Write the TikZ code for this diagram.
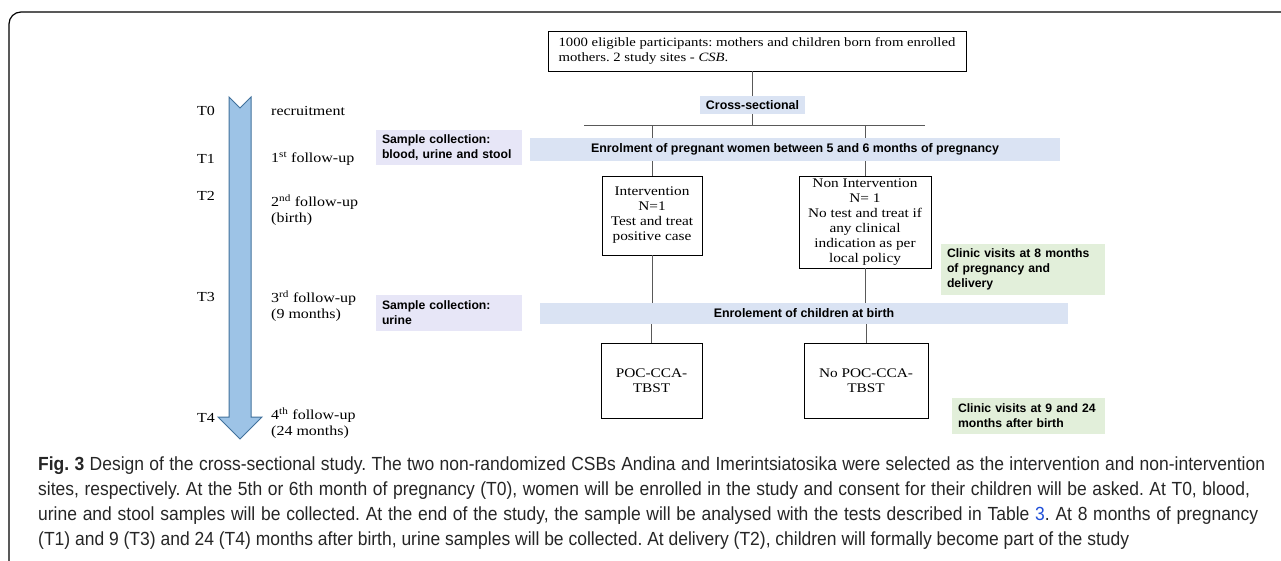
\documentclass[tikz,border=0pt]{standalone}
\usepackage{fontspec}
\setmainfont{Liberation Serif}[FakeStretch=1.16]
\newfontfamily\boldsans{Liberation Sans}
\newfontfamily\capfont{Liberation Sans}[FakeStretch=0.92]
\usetikzlibrary{positioning}
\definecolor{barblue}{HTML}{DAE3F3}
\definecolor{lavender}{HTML}{E7E6F7}
\definecolor{palegreen}{HTML}{E2EFDA}
\definecolor{arrowfill}{HTML}{9DC3E6}
\definecolor{arrowedge}{HTML}{41719C}
\definecolor{linkblue}{HTML}{1F4FD8}
\tikzset{
  plainbox/.style={draw=black, line width=0.9pt, inner sep=0pt, align=center, font=\fontsize{13.2}{15}\selectfont},
  barbox/.style={fill=barblue, inner sep=0pt, font=\boldsans\bfseries\fontsize{12.4}{14}\selectfont},
  notebox/.style={inner sep=0pt, inner xsep=6pt, align=left, text width=#1, font=\boldsans\bfseries\fontsize{12.2}{15}\selectfont},
  tlabel/.style={anchor=west, inner sep=0pt, align=left, font=\fontsize{13.8}{15.5}\selectfont},
  link/.style={draw=black!65, line width=1pt},
  capline/.style={anchor=west, inner sep=0pt, text=black!85, font=\capfont\fontsize{19}{25}\selectfont}
}
\begin{document}
\frenchspacing
\begin{tikzpicture}[x=1pt,y=-1pt]
  \useasboundingbox (0,0) rectangle (1281,561);
  % Frame
  \draw[line width=1.2pt, rounded corners=12pt] (9,570) -- (9,12) -- (1290,12);
  % Time arrow
  \draw[fill=arrowfill, draw=arrowedge, line width=1pt, line join=miter]
    (229,97) -- (240,108) -- (251,97) -- (251,417) -- (262,417) -- (240,439)
    -- (218,417) -- (229,417) -- cycle;
  % Time points
  \node[tlabel] (t0) at (197,111) {T0};
  \node[tlabel] (t1) at (197,159) {T1};
  \node[tlabel] (t2) at (197,196) {T2};
  \node[tlabel] (t3) at (197,297) {T3};
  \node[tlabel] (t4) at (197,418) {T4};
  \node[tlabel] (f0) at (271,111) {recruitment};
  \node[tlabel] (f1) at (271,159) {1\textsuperscript{st} follow-up};
  \node[tlabel] (f2) at (271,210) {2\textsuperscript{nd} follow-up\\(birth)};
  \node[tlabel] (f3) at (271,306) {3\textsuperscript{rd} follow-up\\(9 months)};
  \node[tlabel] (f4) at (271,423) {4\textsuperscript{th} follow-up\\(24 months)};
  % Sample collection
  \node[notebox=134pt, fill=lavender, minimum height=35pt] (samp1) at (449,147.5) {Sample collection:\\blood, urine and stool};
  \node[notebox=134pt, fill=lavender, minimum height=36pt] (samp2) at (449,313) {Sample collection:\\urine};
  % Flow
  \node[plainbox, align=left, minimum width=418pt, minimum height=40pt, font=\fontsize{12.7}{15}\selectfont] (pool) at (757,51)
    {1000 eligible participants: mothers and children born from enrolled\\mothers. 2 study sites - \textit{CSB}.};
  \node[barbox, minimum width=105pt, minimum height=18pt] (cross) at (752.5,105) {Cross-sectional};
  \coordinate (splitL) at (584,126);
  \coordinate (splitR) at (925,126);
  \node[barbox, minimum width=530pt, minimum height=23pt] (women) at (795,149.5) {Enrolment of pregnant women between 5 and 6 months of pregnancy};
  \node[plainbox, minimum width=100pt, minimum height=79pt] (int) at (652,215.5) {Intervention\\N=1\\Test and treat\\positive case};
  \node[plainbox, minimum width=132pt, minimum height=92pt] (nonint) at (865,222) {Non Intervention\\N= 1\\No test and treat if\\any clinical\\indication as per\\local policy};
  \node[barbox, minimum width=528pt, minimum height=21pt] (children) at (804,313.5) {Enrolement of children at birth};
  \node[plainbox, minimum width=101pt, minimum height=75pt] (poc) at (651.5,380.5) {POC-CCA-\\TBST};
  \node[plainbox, minimum width=124pt, minimum height=75pt] (nopoc) at (866,380.5) {No POC-CCA-\\TBST};
  % Clinic visits
  \node[notebox=152pt, fill=palegreen, minimum height=51pt] (visit1) at (1023,269.5) {Clinic visits at 8 months\\of pregnancy and\\delivery};
  \node[notebox=141pt, fill=palegreen, minimum height=36pt] (visit2) at (1028.5,416) {Clinic visits at 9 and 24\\months after birth};
  % Connectors
  \draw[link] (cross.north |- pool.south) -- (cross.north);
  \draw[link] (cross.south) -- (cross.south |- splitL);
  \draw[link] (splitL) -- (splitR);
  \draw[link] (int.north |- splitL) -- (int.north |- women.north);
  \draw[link] (nonint.north |- splitR) -- (nonint.north |- women.north);
  \draw[link] (int.north |- women.south) -- (int.north);
  \draw[link] (nonint.north |- women.south) -- (nonint.north);
  \draw[link] (int.south) -- (int.south |- children.north);
  \draw[link] (nonint.south) -- (nonint.south |- children.north);
  \draw[link] (poc.north |- children.south) -- (poc.north);
  \draw[link] (nopoc.north |- children.south) -- (nopoc.north);
  % Caption
  \node[capline] (cap1) at (38,466) {\parbox{1227pt}{\parfillskip=0pt \textbf{Fig. 3} Design of the cross-sectional study. The two non-randomized CSBs Andina and Imerintsiatosika were selected as the intervention and non-intervention}};
  \node[capline] (cap2) at (38,491) {\parbox{1212pt}{\parfillskip=0pt sites, respectively. At the 5th or 6th month of pregnancy (T0), women will be enrolled in the study and consent for their children will be asked. At T0, blood,}};
  \node[capline] (cap3) at (38,516) {\parbox{1220pt}{\parfillskip=0pt urine and stool samples will be collected. At the end of the study, the sample will be analysed with the tests described in Table \textcolor{linkblue}{3}. At 8 months of pregnancy}};
  \node[capline] (cap4) at (38,541) {(T1) and 9 (T3) and 24 (T4) months after birth, urine samples will be collected. At delivery (T2), children will formally become part of the study};
\end{tikzpicture}
\end{document}
